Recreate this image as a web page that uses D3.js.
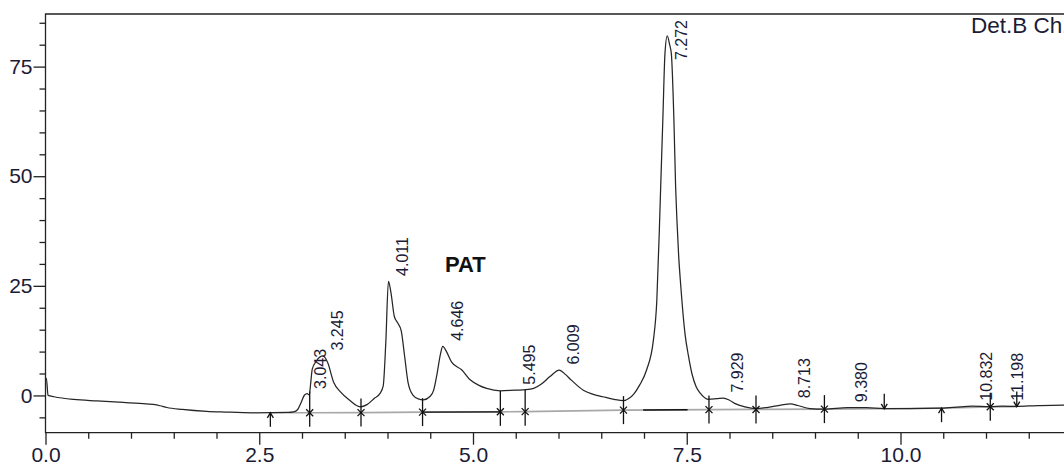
<!DOCTYPE html>
<html>
<head>
<meta charset="utf-8">
<script src="https://cdn.jsdelivr.net/npm/d3@7"></script>
<style>
  body { margin: 0; background: #fff; }
  svg { display: block; font-family: "Liberation Sans", Arial, sans-serif; }
</style>
</head>
<body>
<svg id="chart"></svg>
<script>
// detector trace (minutes, mV)
const traceTime = [
  0.00, 0.01, 0.03, 0.10, 0.33, 0.60, 0.91, 1.10, 1.26, 1.34, 1.42, 1.60, 1.885, 2.10, 2.43,
  2.84, 2.90, 2.95, 2.99, 3.03, 3.06, 3.085, 3.10, 3.12, 3.17, 3.245, 3.30, 3.37, 3.45, 3.55,
  3.68, 3.76, 3.85, 3.91, 3.95, 3.98, 4.011, 4.04, 4.08, 4.12, 4.16, 4.20, 4.24, 4.30, 4.36,
  4.42, 4.50, 4.54, 4.58, 4.62, 4.646, 4.69, 4.75, 4.87, 4.97, 5.07, 5.16, 5.32, 5.495, 5.62,
  5.71, 5.80, 5.90, 6.009, 6.08, 6.15, 6.29, 6.40, 6.52, 6.65, 6.76, 6.83, 6.88, 6.95, 7.03,
  7.11, 7.15, 7.18, 7.195, 7.22, 7.245, 7.272, 7.30, 7.32, 7.35, 7.37, 7.385, 7.405, 7.43, 7.48,
  7.52, 7.56, 7.61, 7.66, 7.75, 7.85, 7.929, 8.00, 8.06, 8.18, 8.31, 8.45, 8.60, 8.713, 8.80,
  8.94, 9.11, 9.38, 9.60, 9.81, 10.10, 10.48, 10.70, 10.832, 11.05, 11.198, 11.36, 11.60, 11.90, 12.00
];
const traceValue = [
  3.6, 3.9, 0.0, -0.3, -0.9, -1.25, -1.6, -1.8, -2.05, -2.35, -2.75, -3.2, -3.65, -3.8, -3.95,
  -3.87, -3.75, -3.2, -1.6, 0.1, 0.4, 0.1, 2.5, 6.0, 7.9, 9.0, 7.5, 3.0, 0.8, -1.0,
  -2.6, -2.1, -0.6, 0.4, 2.2, 12.0, 26.0, 23.5, 18.0, 16.5, 14.8, 9.0, 3.0, 0.0, -0.8,
  -1.0, -0.2, 1.2, 5.0, 9.5, 11.2, 10.0, 7.6, 5.8, 3.5, 2.3, 1.6, 1.05, 1.2, 1.3,
  1.6, 2.6, 4.3, 5.8, 4.8, 3.5, 1.2, 0.3, -0.3, -0.9, -1.2, -0.6, 0.3, 2.4, 5.8,
  12.6, 21.7, 38.0, 47.5, 62.7, 77.9, 82.0, 80.0, 77.9, 62.7, 47.5, 40.0, 32.0, 25.0, 14.0,
  9.0, 5.0, 2.0, 0.45, -0.9, -0.75, -0.6, -1.1, -1.8, -2.6, -3.0, -2.7, -2.2, -1.9, -2.3,
  -3.0, -3.15, -2.8, -2.8, -3.0, -3.0, -2.9, -2.6, -2.45, -2.55, -2.45, -2.5, -2.3, -2.2, -2.15
];

// integration baseline and peak marks
const baselineTimes = [2.63, 3.09, 3.69, 4.41, 5.32, 5.61, 6.76, 7.76, 8.31, 9.11, 9.81, 10.48, 11.05, 11.36];
const baselineValues = [-3.96, -3.96, -3.92, -3.8, -3.74, -3.7, -3.35, -3.23, -3.19, -3.12, -3.05, -2.9, -2.6, -2.55];
const darkBaseline = [[4.41, 5.32], [6.99, 7.51]];
const crossTimes = [3.09, 3.69, 4.41, 5.32, 5.61, 6.76, 7.76, 8.31, 9.11, 11.05];
const upArrowTimes = [2.63, 10.48];
const downArrowTimes = [9.81, 11.36];
const peakLabels = ['3.043', '3.245', '4.011', '4.646', '5.495', '6.009', '7.272', '7.929', '8.713', '9.380', '10.832', '11.198'];

const xTicks = [0, 2.5, 5, 7.5, 10];
const yTicks = [0, 25, 50, 75];

const width = 1064;
const height = 466;
const plot = { left: 45.5, top: 14, bottom: 432.7 };

const svg = d3.select('#chart')
    .attr('width', width)
    .attr('height', height);

svg.append('rect').attr('width', width).attr('height', height).attr('fill', '#fff');

const x = d3.scaleLinear().domain([0, 12]).range([plot.left, plot.left + 85.5 * 12]);
const y = d3.scaleLinear().domain([-8.5, 87]).range([plot.bottom, plot.top]);

// linear lookup on a sampled series
function lookup(ts, vs, t) {
    const i = Math.max(1, Math.min(ts.length - 1, d3.bisectLeft(ts, t)));
    const k = (t - ts[i - 1]) / (ts[i] - ts[i - 1]);
    return vs[i - 1] + k * (vs[i] - vs[i - 1]);
}
const curveAt = t => lookup(traceTime, traceValue, t);
const baseAt = t => lookup(baselineTimes, baselineValues, t);

const textColor = '#1b1b36';

// axes
const xAxis = d3.axisBottom(x).tickValues(xTicks).tickSize(12).tickPadding(2)
    .tickFormat(d3.format('.1f'));
const xMinor = d3.axisBottom(x).tickValues(d3.range(0.5, 12, 0.5).filter(v => v % 2.5 !== 0))
    .tickSize(6).tickFormat('');
const yAxis = d3.axisLeft(y).tickValues(yTicks).tickSize(12).tickPadding(1);
const yMinor = d3.axisLeft(y).tickValues(d3.range(-5, 90, 5).filter(v => v % 25 !== 0))
    .tickSize(6).tickFormat('');

function styleAxis(g) {
    g.select('.domain').remove();
    g.selectAll('line').attr('stroke', '#222').attr('stroke-width', 1.3);
    g.selectAll('text').attr('fill', textColor).style('font-size', '21px')
        .style('font-family', '"Liberation Sans", Arial, sans-serif');
}

svg.append('g').attr('transform', `translate(0,${plot.bottom})`).call(xAxis).call(styleAxis);
svg.append('g').attr('transform', `translate(0,${plot.bottom})`).call(xMinor).call(styleAxis);
svg.append('g').attr('transform', `translate(${plot.left},0)`).call(yAxis).call(styleAxis);
svg.append('g').attr('transform', `translate(${plot.left},0)`).call(yMinor).call(styleAxis);

// frame (right side runs off the page)
svg.append('path')
    .attr('d', `M${width + 5},${plot.top}H${plot.left}V${plot.bottom}H${width + 5}`)
    .attr('fill', 'none')
    .attr('stroke', '#222')
    .attr('stroke-width', 1.3);

// baseline
const baseLine = d3.line().x(d => x(d[0])).y(d => y(d[1]));
svg.append('path')
    .attr('d', baseLine(baselineTimes.map((t, i) => [t, baselineValues[i]])))
    .attr('fill', 'none')
    .attr('stroke', '#a8a8a8')
    .attr('stroke-width', 1.6);

darkBaseline.forEach(([a, b]) => {
    svg.append('line')
        .attr('x1', x(a)).attr('x2', x(b))
        .attr('y1', y(baseAt(a))).attr('y2', y(baseAt(b)))
        .attr('stroke', '#111').attr('stroke-width', 1.3);
});

// trace
const traceLine = d3.line()
    .x(d => x(d[0]))
    .y(d => y(d[1]))
    .curve(d3.curveMonotoneX);

svg.append('path')
    .attr('d', traceLine(traceTime.map((t, i) => [t, traceValue[i]])))
    .attr('fill', 'none')
    .attr('stroke', '#262626')
    .attr('stroke-width', 1.25);

// peak start/end marks
const marks = svg.append('g').attr('stroke', '#111').attr('stroke-width', 1.3).attr('fill', 'none');

crossTimes.forEach((t) => {
    const px = x(t);
    const by = y(baseAt(t));
    const top = Math.min(y(curveAt(t)), by - 14);
    marks.append('line').attr('x1', px).attr('x2', px).attr('y1', top).attr('y2', by + 14);
    marks.append('path')
        .attr('d', `M${px - 3.5},${by - 3.5}L${px + 3.5},${by + 3.5}M${px - 3.5},${by + 3.5}L${px + 3.5},${by - 3.5}`);
});

upArrowTimes.forEach((t) => {
    const px = x(t);
    const by = y(baseAt(t));
    marks.append('line').attr('x1', px).attr('x2', px).attr('y1', by).attr('y2', by + 14);
    marks.append('path').attr('d', `M${px - 3},${by + 5}L${px},${by}L${px + 3},${by + 5}`);
});

downArrowTimes.forEach((t) => {
    const px = x(t);
    const by = y(baseAt(t));
    marks.append('line').attr('x1', px).attr('x2', px).attr('y1', by - 15).attr('y2', by);
    marks.append('path').attr('d', `M${px - 3},${by - 5}L${px},${by}L${px + 3},${by - 5}`);
});

// retention time labels
peakLabels.forEach((label) => {
    const t = +label;
    const lx = x(t) + 20;
    const text = svg.append('text')
        .attr('fill', textColor)
        .style('font-size', '16px')
        .text(label);
    const len = text.node().getComputedTextLength();
    const ly = Math.max(y(curveAt(t)) - 5.5, plot.top + 6 + len);
    text.attr('transform', `translate(${lx},${ly})rotate(-90)`);
});

svg.append('text')
    .attr('x', 445)
    .attr('y', 272)
    .attr('font-weight', 'bold')
    .style('font-size', '22px')
    .attr('fill', '#111')
    .text('PAT');

// the chart was cropped on the right, so this title runs off the page
svg.append('text')
    .attr('x', 971)
    .attr('y', 33)
    .attr('fill', textColor)
    .style('font-size', '22.5px')
    .text('Det.B Ch1');
</script>
</body>
</html>
